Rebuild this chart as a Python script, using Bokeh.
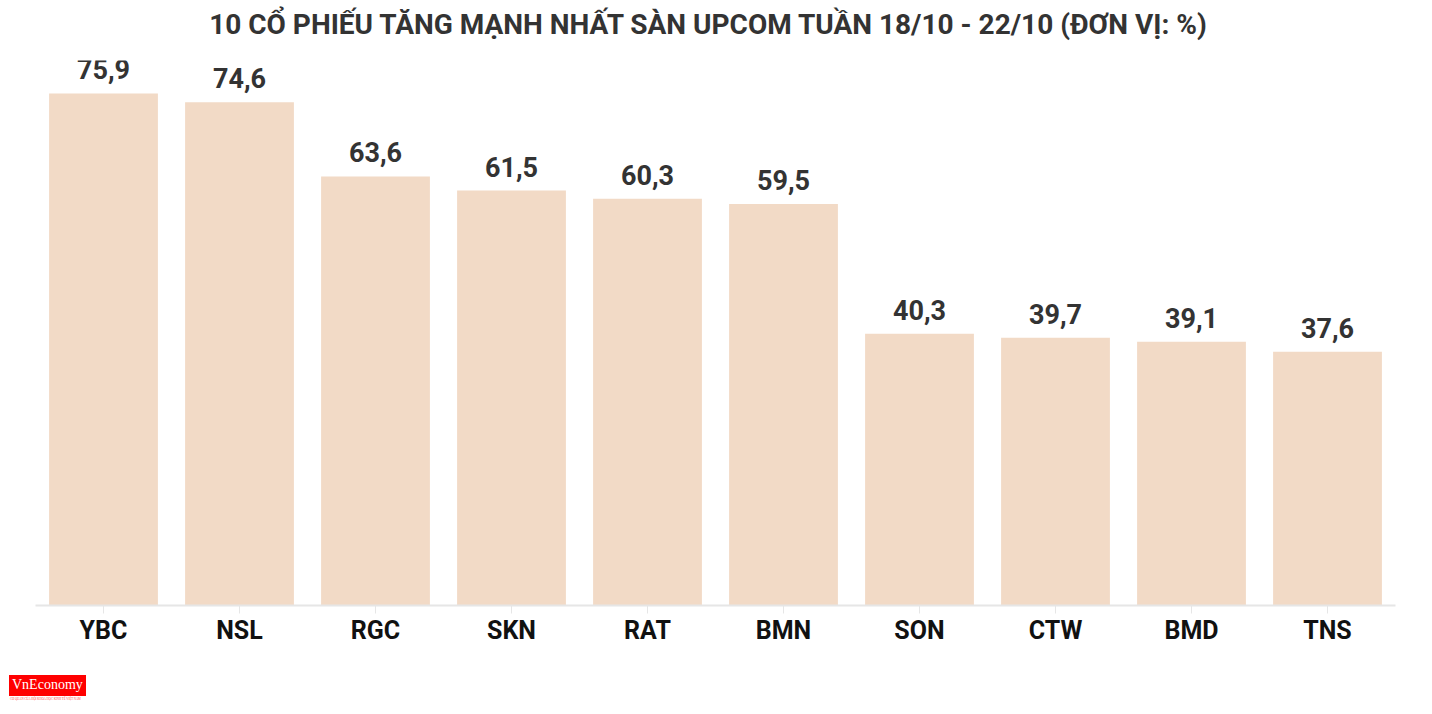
from bokeh.plotting import figure
from bokeh.models import ColumnDataSource, FactorRange, Div
from bokeh.layouts import column
from bokeh.core.properties import value
from bokeh.embed import file_html
from bokeh.resources import INLINE

tickers = ["YBC", "NSL", "RGC", "SKN", "RAT", "BMN", "SON", "CTW", "BMD", "TNS"]
gains = [75.9, 74.6, 63.6, 61.5, 60.3, 59.5, 40.3, 39.7, 39.1, 37.6]
labels = [f"{v:.1f}".replace(".", ",") for v in gains]
title_text = "10 CỔ PHIẾU TĂNG MẠNH NHẤT SÀN UPCOM TUẦN 18/10 - 22/10 (ĐƠN VỊ: %)"

src = ColumnDataSource(dict(x=tickers, top=gains, label=labels))

W = 1416
Y_END = 545 / 6.746

title = Div(
    text=('<div style="width:1416px;text-align:center;font-family:Roboto,sans-serif;font-weight:bold;'
          'font-size:28px;line-height:40px;padding-top:5px;color:#333333;white-space:nowrap;">'
          + title_text + '</div>'),
    width=W, height=40, margin=(0, 0, 0, 0))

p = figure(x_range=FactorRange(*tickers, range_padding=0), y_range=(0, Y_END),
           width=W, height=628, output_backend="svg", toolbar_location=None,
           min_border_left=35, min_border_right=21, min_border_top=20, min_border_bottom=63,
           margin=(0, 0, 0, 0))
p.outline_line_color = None
p.background_fill_color = "white"
p.border_fill_color = "white"
p.grid.visible = False
p.yaxis.visible = False

p.vbar(x="x", top="top", width=0.8, source=src, color="#f2dac6", line_color=None)
p.text(x="x", y="top", text="label", source=src, text_align="center", text_baseline="bottom",
       y_offset=-14, text_font=value("Roboto"), text_font_style="bold",
       text_font_size="27px", text_color="#333333")

ax = p.xaxis[0]
ax.axis_line_color = "#e6e6e6"
ax.axis_line_width = 2
ax.major_tick_line_color = "#e6e6e6"
ax.major_tick_in = 0
ax.major_tick_out = 8
ax.minor_tick_line_color = None
ax.major_label_text_font = "Roboto"
ax.major_label_text_font_style = "bold"
ax.major_label_text_font_size = "25px"
ax.major_label_text_color = "#111111"
ax.major_label_standoff = 2

logo = Div(
    text=('<div style="position:relative;width:80px;height:30px;font-family:\'Liberation Serif\',serif;">'
          '<div style="position:absolute;left:0;top:0;background:#ff0000;width:77px;height:21px;"></div>'
          '<span style="position:absolute;left:3px;top:2px;font-size:14px;line-height:16px;color:white;">VnEconomy</span>'
          '<span style="position:absolute;left:1px;top:22px;font-size:3px;line-height:4px;color:#ff4444;white-space:nowrap;">'
          'CƠ QUAN CỦA HỘI KHOA HỌC KINH TẾ VIỆT NAM</span></div>'),
    width=80, height=30, margin=(7, 0, 0, 9))

layout = column(title, p, logo, spacing=0)
open("out.html", "w").write(file_html(layout, INLINE))
